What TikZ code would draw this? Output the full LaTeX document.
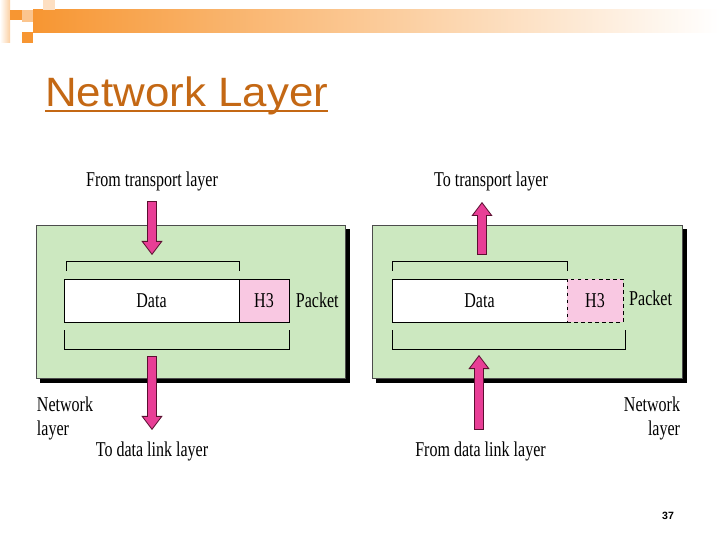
\documentclass[tikz,border=0pt]{standalone}
\usepackage{fontspec}
\setmainfont{Liberation Serif}
\newfontfamily\lblfont[FakeStretch=0.76]{Liberation Serif}
\newfontfamily\ttlfont[FakeStretch=1.07]{Liberation Sans}
\newfontfamily\pgfont{Liberation Sans}
\usepackage{xcolor}
\usepackage{tikz}
\usetikzlibrary{positioning,calc,shadows,arrows.meta}

\definecolor{layergreen}{RGB}{204,232,192}
\definecolor{hdrpink}{RGB}{249,200,226}
\definecolor{arrpink}{RGB}{232,62,150}
\definecolor{arredge}{RGB}{90,16,48}
\definecolor{ttlorange}{RGB}{196,104,20}
\definecolor{bannerorange}{RGB}{247,150,50}

\tikzstyle{lbl}      =[font=\lblfont\fontsize{18}{20.5}\selectfont, inner sep=0pt]
\tikzstyle{layerbox} =[draw=black!70, line width=0.5pt, fill=layergreen, minimum height=4.59cm,
                       drop shadow={shadow xshift=0.13cm, shadow yshift=-0.13cm, fill=black, draw=black, opacity=1}]
\tikzstyle{datafld}  =[lbl, line width=0.6pt, fill=white, minimum width=5.25cm, minimum height=1.29cm, outer sep=0pt]
\tikzstyle{hdrfld}   =[lbl, draw, line width=0.6pt, fill=hdrpink, minimum height=1.29cm, outer sep=0pt]
\tikzstyle{brk}      =[line width=0.6pt]
\tikzstyle{fatarr}   =[draw=arrpink, line width=0.25cm,
                       -{Triangle[length=0.42cm, width=0.63cm, fill=arrpink, color=arredge, line width=0.7pt]},
                       preaction={draw=arredge, line width=0.3cm, -, shorten >=0.4cm, shorten <=-0.7pt},
                       postaction={draw=arrpink, line width=0.25cm, -, shorten >=0.38cm}]

\begin{document}
\begin{tikzpicture}[x=0.03cm, y=-0.03cm]
  \useasboundingbox[fill=white] (0,0) rectangle (720,540);

  % ── slide banner ───────────────────────────────────────────────────────────
  \shade[left color=white, right color=bannerorange!45] (0,0) rectangle (10,43);
  \shade[left color=bannerorange, right color=white] (33,10) rectangle (720,33);
  \fill[bannerorange]    (10,10) rectangle (22,20);
  \fill[bannerorange!55] (22,10) rectangle (33,22);
  \fill[bannerorange]    (22,32) rectangle (33,43);
  \fill[bannerorange!30] (43,0)  rectangle (55,10);

  \node[font=\ttlfont\fontsize{35}{40}\selectfont, text=ttlorange, anchor=base west, inner sep=0pt]
    (title) at (45,107) {Network Layer};
  \draw[ttlorange, line width=0.07cm] ($(title.base west)+(0,4)$) -- ($(title.base east)+(0,4)$);

  % ── source side ────────────────────────────────────────────────────────────
  \node[layerbox, minimum width=9.27cm] (boxL) at (190.5,301.5) {};
  \node[datafld, draw] (dataL) at (151.5,300.5) {Data};
  \node[hdrfld, minimum width=1.5cm, anchor=west] (hdrL) at (dataL.east) {H3};
  \node[lbl, right=0.2cm of hdrL] (pktL) {Packet};

  \draw[brk] ($(dataL.north west)+(2,-8)$) |- ($(dataL.north east)+(0,-18)$) -- ($(dataL.north east)+(0,-8)$);
  \draw[brk] ($(dataL.south west)+(0,8)$) |- ($(hdrL.south east)+(0,27)$) -- ($(hdrL.south east)+(0,8)$);

  \node[lbl, anchor=base] (fromTL) at (152,187) {From transport layer};
  \node[lbl, anchor=base] (toDL)   at (152,457) {To data link layer};
  \node[lbl, align=left]  (netL)   at (65,418) {Network\\layer};

  \coordinate (inL)    at (152,202);
  \coordinate (inLtip) at (152,255);
  \coordinate (outL)   at (152,357);
  \coordinate (outLtip) at (152,430);
  \draw[fatarr] (inL) -- (inLtip);
  \draw[fatarr] (outL) -- (outLtip);

  % ── destination side ───────────────────────────────────────────────────────
  \node[layerbox, minimum width=9.3cm] (boxR) at (527,301.5) {};
  \node[datafld] (dataR) at (479.5,300.5) {Data};
  \draw[line width=0.6pt] (dataR.north east) -- (dataR.north west) -- (dataR.south west) -- (dataR.south east);
  \node[hdrfld, dashed, minimum width=1.68cm, anchor=west] (hdrR) at (dataR.east) {H3};
  \node[lbl, right=0.18cm of hdrR, yshift=0.06cm] (pktR) {Packet};

  \draw[brk] ($(dataR.north west)+(0,-8)$) |- ($(dataR.north east)+(0,-18)$) -- ($(dataR.north east)+(0,-8)$);
  \draw[brk] ($(dataR.south west)+(0,8)$) |- ($(hdrR.south east)+(2,27)$) -- ($(hdrR.south east)+(2,8)$);

  \node[lbl, anchor=base] (toTR)   at (491,187) {To transport layer};
  \node[lbl, anchor=base] (fromDR) at (480.5,456) {From data link layer};
  \node[lbl, align=right] (netR)   at (652,418) {Network\\layer};

  \coordinate (upR)    at (482,254);
  \coordinate (upRtip) at (482,202);
  \coordinate (inR)    at (479,429);
  \coordinate (inRtip) at (479,355);
  \draw[fatarr] (upR) -- (upRtip);
  \draw[fatarr] (inR) -- (inRtip);

  \node[font=\pgfont\bfseries\fontsize{9}{9}\selectfont] (pgno) at (668,516) {37};

\end{tikzpicture}
\end{document}
